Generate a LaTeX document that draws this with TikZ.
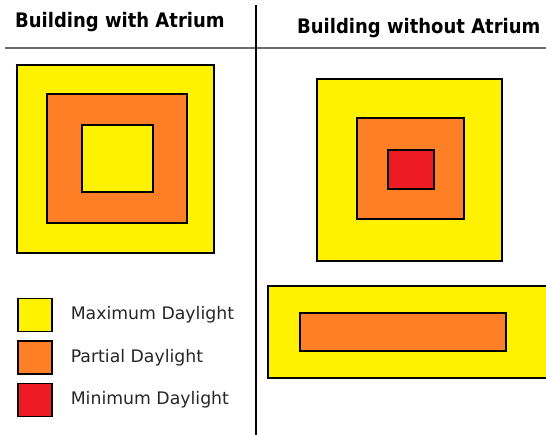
\documentclass[tikz,border=0pt]{standalone}
\usepackage{fontspec}
\setmainfont{DejaVu Sans}
\newfontfamily\headfont{DejaVu Sans Condensed}
\usetikzlibrary{positioning, shadows}
\definecolor{cyellow}{HTML}{FFF200}
\definecolor{corange}{HTML}{FF7F27}
\definecolor{cred}{HTML}{ED1C24}
\definecolor{cline}{HTML}{6B6B6B}
\tikzset{
  every picture/.style={x=1pt, y=-1pt},
  zone/.style={draw=black, fill=#1, line width=1.2pt, inner sep=0pt},
  zone/.default=cyellow,
  plan/.style={zone, drop shadow={shadow xshift=1pt, shadow yshift=-1pt, opacity=.35}},
  title/.style={font=\headfont\bfseries\fontsize{20}{24}\selectfont, anchor=base west, inner sep=0pt},
  key/.style={zone=#1, minimum width=34pt, minimum height=33pt},
  keytext/.style={font=\fontsize{17.3}{20}\selectfont, text=black!85, inner sep=0pt},
}

\begin{document}
\begin{tikzpicture}
  \useasboundingbox (0,0) rectangle (546,435);
  % headings and dividers
  \node[title] (hWith) at (15,28) {Building with Atrium};
  \node[title] (hWithout) at (297,34) {Building without Atrium};
  \draw[cline, line width=1.5pt] (5,48) -- (546,48);
  \draw[line width=1.3pt] (256,5) -- (256,435);
  % building with atrium
  \node[plan, minimum width=197pt, minimum height=188pt] (wOuter) at (115.5,159) {};
  \node[zone=corange, minimum width=140pt, minimum height=129pt] (wMid) at (117,158.5) {};
  \node[zone, minimum width=71pt, minimum height=67pt] (wCore) at (117.5,158.5) {};
  % building without atrium: square plan
  \node[plan, minimum width=185pt, minimum height=182pt] (sOuter) at (409.5,170) {};
  \node[zone=corange, minimum width=107pt, minimum height=101pt] (sMid) at (410.5,168.5) {};
  \node[zone=cred, minimum width=46pt, minimum height=39pt] (sCore) at (411,169.5) {};
  % building without atrium: long plan
  \node[plan, minimum width=290pt, minimum height=92pt] (bOuter) at (413,332) {};
  \node[zone=corange, minimum width=206pt, minimum height=38pt] (bMid) at (403,332) {};
  % legend
  \foreach \n/\c/\t [count=\i from 0] in {max/cyellow/Maximum Daylight, part/corange/Partial Daylight, min/cred/Minimum Daylight} {
    \node[key=\c] (k\n) at (35,315+42.5*\i) {};
    \node[keytext, right=18pt of k\n] (t\n) {\t};
  }
\end{tikzpicture}
\end{document}
